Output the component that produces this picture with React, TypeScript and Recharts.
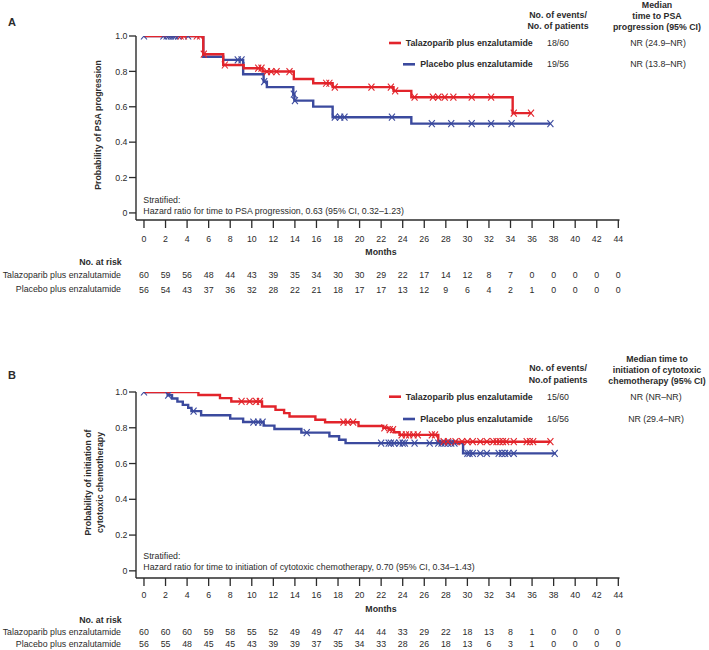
import React from 'react';
import { ComposedChart, Line, XAxis, YAxis } from 'recharts';

const FONT = '"Liberation Sans", Arial, Helvetica, sans-serif';
const RED = '#e2242b';
const BLUE = '#3b4a9e';
const INK = '#2b2b2b';

// shared axes
const months = [0, 2, 4, 6, 8, 10, 12, 14, 16, 18, 20, 22, 24, 26, 28, 30, 32, 34, 36, 38, 40, 42, 44];
const probTicks = [0, 0.2, 0.4, 0.6, 0.8, 1.0];

// Panel A: time to PSA progression — [month, survival]
const psaTala: [number, number][] = [
  [0, 1], [5.5, 0.897], [7.35, 0.836], [9.25, 0.818], [11.0, 0.799], [13.9, 0.757],
  [15.7, 0.733], [17.5, 0.711], [23.15, 0.69], [24.8, 0.654], [34.2, 0.564], [35.9, 0.564],
];
const psaPlac: [number, number][] = [
  [0, 1], [5.5, 0.883], [7.35, 0.865], [9.2, 0.784], [11.1, 0.742], [11.4, 0.711],
  [13.85, 0.672], [13.95, 0.635], [15.7, 0.601], [17.5, 0.541], [24.8, 0.505], [37.7, 0.505],
];
const psaTalaCensor = [
  3.4, 3.7, 4.9, 5.2, 5.55, 7.5, 10.6, 10.9, 11.4, 11.8, 12.3, 13.5, 16.9, 17.2, 17.7,
  21.1, 22.9, 23.3, 25.1, 26.8, 27.3, 27.9, 28.7, 30.4, 32.2, 34.3, 35.9,
];
const psaPlacCensor = [
  0, 1.8, 2.1, 2.3, 2.5, 2.7, 2.9, 3.2, 4.1, 8.7, 9.05, 11.15, 13.9, 14.0, 17.7, 18.2,
  18.6, 23.0, 26.7, 28.5, 30.4, 32.2, 34.1, 37.7,
];
const psaRiskTala = [60, 59, 56, 48, 44, 43, 39, 35, 34, 30, 30, 29, 22, 17, 14, 12, 8, 7, 0, 0, 0, 0, 0];
const psaRiskPlac = [56, 54, 43, 37, 36, 32, 28, 22, 21, 18, 17, 17, 13, 12, 9, 6, 4, 2, 1, 0, 0, 0, 0];

// Panel B: time to initiation of cytotoxic chemotherapy
const chemoTala: [number, number][] = [
  [0, 1], [5.05, 0.983], [7.05, 0.966], [8.1, 0.947], [10.95, 0.919], [12.2, 0.9],
  [13.0, 0.882], [13.5, 0.863], [15.9, 0.845], [16.8, 0.831], [19.9, 0.81], [22.2, 0.8],
  [22.7, 0.79], [23.2, 0.775], [23.7, 0.76], [27.3, 0.722], [37.7, 0.722],
];
const chemoPlac: [number, number][] = [
  [0, 1], [2.2, 0.982], [2.6, 0.964], [3.1, 0.946], [3.6, 0.928], [4.1, 0.911], [4.4, 0.893],
  [5.3, 0.87], [8.0, 0.851], [9.2, 0.832], [11.1, 0.812], [12.1, 0.793], [14.6, 0.773],
  [17.2, 0.753], [18.1, 0.733], [18.7, 0.714], [29.6, 0.657], [38.2, 0.657],
];
const chemoTalaCensor = [
  9.05, 9.8, 10.4, 10.75, 18.5, 18.9, 19.4, 22.3, 22.8, 23.1, 23.9, 24.3, 24.6, 25.0, 25.4,
  26.7, 27.0, 27.8, 28.2, 28.9, 29.5, 30.0, 30.5, 31.2, 31.8, 32.4, 32.7, 33.0, 33.3, 33.6,
  34.3, 35.5, 35.8, 36.1, 37.7,
];
const chemoPlacCensor = [
  0, 2.25, 4.6, 10.15, 10.6, 11.0, 15.1, 22.0, 22.7, 22.9, 23.2, 23.7, 24.0, 24.2, 25.1,
  26.5, 27.3, 27.6, 27.9, 28.2, 28.5, 28.8, 30.0, 30.2, 30.5, 31.2, 31.8, 32.9, 33.2, 33.5,
  33.8, 34.3, 38.1,
];
const chemoRiskTala = [60, 60, 60, 59, 58, 55, 52, 49, 49, 47, 44, 44, 33, 29, 22, 18, 13, 8, 1, 0, 0, 0, 0];
const chemoRiskPlac = [56, 55, 48, 45, 45, 43, 39, 39, 37, 35, 34, 33, 28, 26, 18, 13, 6, 3, 1, 0, 0, 0, 0];

// value of the KM step curve at time t
const survAt = (steps: [number, number][], t: number) => {
  let s = steps[0][1];
  for (const [st, sv] of steps) if (st <= t) s = sv;
  return s;
};

const Cross = ({ cx, cy, color }: any) => {
  if (cx == null || cy == null) return null;
  return (
    <g stroke={color} strokeWidth={1.1}>
      <line x1={cx - 3} y1={cy - 3.5} x2={cx + 3} y2={cy + 3.5} />
      <line x1={cx - 3} y1={cy + 3.5} x2={cx + 3} y2={cy - 3.5} />
    </g>
  );
};

const RiskTick = ({ x, payload, index, riskA, riskB, rows }: any) => (
  <g fontFamily={FONT} fontSize={8.8} fill={INK}>
    <text x={x} y={rows[0]} textAnchor="middle">{payload.value}</text>
    <text x={x} y={rows[1]} textAnchor="middle">{riskA[index]}</text>
    <text x={x} y={rows[2]} textAnchor="middle">{riskB[index]}</text>
  </g>
);

const KmPanel = ({ tala, plac, talaCensor, placCensor, riskA, riskB, bottom, rows }: any) => {
  const toData = (steps: [number, number][]) => steps.map(([t, s]) => ({ t, s }));
  const censorData = (steps: [number, number][], times: number[]) =>
    times.map((t) => ({ t, s: survAt(steps, t) }));
  return (
    <ComposedChart width={709} height={300} margin={{ top: 36, right: 89.5, left: 96, bottom }}>
      <XAxis
        dataKey="t"
        type="number"
        domain={[-0.74, 44.11]}
        ticks={months}
        interval={0}
        allowDataOverflow
        height={70}
        tickSize={8}
        axisLine={{ stroke: INK, strokeWidth: 1.4 }}
        tickLine={{ stroke: INK, strokeWidth: 1.3 }}
        tick={(p: any) => <RiskTick key={p.index} {...p} riskA={riskA} riskB={riskB} rows={rows} />}
      />
      <YAxis
        dataKey="s"
        type="number"
        domain={[-0.04, 1]}
        ticks={probTicks}
        interval={0}
        allowDataOverflow
        width={40}
        tickSize={7}
        tickMargin={1.5}
        axisLine={{ stroke: INK, strokeWidth: 1.4 }}
        tickLine={{ stroke: INK, strokeWidth: 1.3 }}
        tick={{ fill: INK, fontSize: 8.8, fontFamily: FONT }}
        tickFormatter={(v: number) => (v === 0 ? '0' : v.toFixed(1))}
      />
      <Line data={toData(plac)} dataKey="s" type="stepAfter" stroke={BLUE} strokeWidth={2.4} dot={false} isAnimationActive={false} />
      <Line data={toData(tala)} dataKey="s" type="stepAfter" stroke={RED} strokeWidth={2.4} dot={false} isAnimationActive={false} />
      <Line
        data={censorData(plac, placCensor)}
        dataKey="s"
        stroke="none"
        dot={(p: any) => <Cross key={p.index} cx={p.cx} cy={p.cy} color={BLUE} />}
        isAnimationActive={false}
      />
      <Line
        data={censorData(tala, talaCensor)}
        dataKey="s"
        stroke="none"
        dot={(p: any) => <Cross key={p.index} cx={p.cx} cy={p.cy} color={RED} />}
        isAnimationActive={false}
      />
    </ComposedChart>
  );
};

const T = ({ x, y, anchor = 'start', bold = false, size = 8.8, children }: any) => (
  <text
    x={x}
    y={y}
    textAnchor={anchor}
    dominantBaseline="central"
    fontFamily={FONT}
    fontSize={size}
    fontWeight={bold ? 'bold' : 'normal'}
    fill={INK}
  >
    {children}
  </text>
);

const Overlay = () => (
  <svg width={709} height={650} style={{ position: 'absolute', left: 0, top: 0, pointerEvents: 'none' }}>
    {/* Panel A */}
    <T x={8} y={21.5} bold size={11}>A</T>
    <T x={558} y={14.7} anchor="middle" bold>No. of events/</T>
    <T x={558} y={25.7} anchor="middle" bold>No. of patients</T>
    <T x={657} y={5} anchor="middle" bold>Median</T>
    <T x={657} y={15.6} anchor="middle" bold>time to PSA</T>
    <T x={657} y={26.7} anchor="middle" bold>progression (95% CI)</T>
    <line x1={389} y1={43} x2={401} y2={43} stroke={RED} strokeWidth={2.6} />
    <line x1={403} y1={64.3} x2={415} y2={64.3} stroke={BLUE} strokeWidth={2.6} />
    <T x={532.7} y={43} anchor="end" bold>Talazoparib plus enzalutamide</T>
    <T x={532.7} y={64.3} anchor="end" bold>Placebo plus enzalutamide</T>
    <T x={558} y={43} anchor="middle">18/60</T>
    <T x={558} y={64.3} anchor="middle">19/56</T>
    <T x={658} y={43} anchor="middle">NR (24.9–NR)</T>
    <T x={658} y={64.3} anchor="middle">NR (13.8–NR)</T>
    <g transform="translate(98,125) rotate(-90)">
      <T x={0} y={0} anchor="middle" bold>Probability of PSA progression</T>
    </g>
    <T x={143.3} y={200}>Stratified:</T>
    <T x={143.3} y={210.7}>Hazard ratio for time to PSA progression, 0.63 (95% CI, 0.32–1.23)</T>
    <T x={381} y={252.3} anchor="middle" bold>Months</T>
    <T x={121.7} y={261.7} anchor="end" bold>No. at risk</T>
    <T x={121} y={275} anchor="end">Talazoparib plus enzalutamide</T>
    <T x={121} y={289.3} anchor="end">Placebo plus enzalutamide</T>

    {/* Panel B */}
    <T x={8} y={375} bold size={11}>B</T>
    <T x={558} y={368.3} anchor="middle" bold>No. of events/</T>
    <T x={558} y={380} anchor="middle" bold>No.of patients</T>
    <T x={657} y={358.5} anchor="middle" bold>Median time to</T>
    <T x={657} y={369.6} anchor="middle" bold>initiation of cytotoxic</T>
    <T x={657} y={380.6} anchor="middle" bold>chemotherapy (95% CI)</T>
    <line x1={389} y1={396.7} x2={401} y2={396.7} stroke={RED} strokeWidth={2.6} />
    <line x1={403} y1={419} x2={415} y2={419} stroke={BLUE} strokeWidth={2.6} />
    <T x={532.7} y={396.7} anchor="end" bold>Talazoparib plus enzalutamide</T>
    <T x={532.7} y={419} anchor="end" bold>Placebo plus enzalutamide</T>
    <T x={558} y={396.7} anchor="middle">15/60</T>
    <T x={558} y={419} anchor="middle">16/56</T>
    <T x={656} y={396.7} anchor="middle">NR (NR–NR)</T>
    <T x={656} y={419} anchor="middle">NR (29.4–NR)</T>
    <g transform="translate(88.3,482.5) rotate(-90)">
      <T x={0} y={0} anchor="middle" bold>Probability of  initiation of</T>
    </g>
    <g transform="translate(100,482.5) rotate(-90)">
      <T x={0} y={0} anchor="middle" bold>cytotoxic chemotherapy</T>
    </g>
    <T x={143.3} y={555.7}>Stratified:</T>
    <T x={143.3} y={566.7}>Hazard ratio for time to initiation of cytotoxic chemotherapy, 0.70 (95% CI, 0.34–1.43)</T>
    <T x={381} y={609} anchor="middle" bold>Months</T>
    <T x={121.7} y={620} anchor="end" bold>No. at risk</T>
    <T x={121} y={632.3} anchor="end">Talazoparib plus enzalutamide</T>
    <T x={121} y={644} anchor="end">Placebo plus enzalutamide</T>
  </svg>
);

export default function App() {
  return (
    <div style={{ position: 'absolute', left: 0, top: 0, width: 709, height: 650, background: '#fff', overflow: 'hidden' }}>
      <div style={{ position: 'absolute', left: 0, top: 0 }}>
        <KmPanel
          tala={psaTala}
          plac={psaPlac}
          talaCensor={psaTalaCensor}
          placCensor={psaPlacCensor}
          riskA={psaRiskTala}
          riskB={psaRiskPlac}
          bottom={10}
          rows={[241.5, 278.2, 292.5]}
        />
      </div>
      <div style={{ position: 'absolute', left: 0, top: 356.3 }}>
        <KmPanel
          tala={chemoTala}
          plac={chemoPlac}
          talaCensor={chemoTalaCensor}
          placCensor={chemoPlacCensor}
          riskA={chemoRiskTala}
          riskB={chemoRiskPlac}
          bottom={8}
          rows={[241.9, 279.2, 290.9]}
        />
      </div>
      <Overlay />
    </div>
  );
}
